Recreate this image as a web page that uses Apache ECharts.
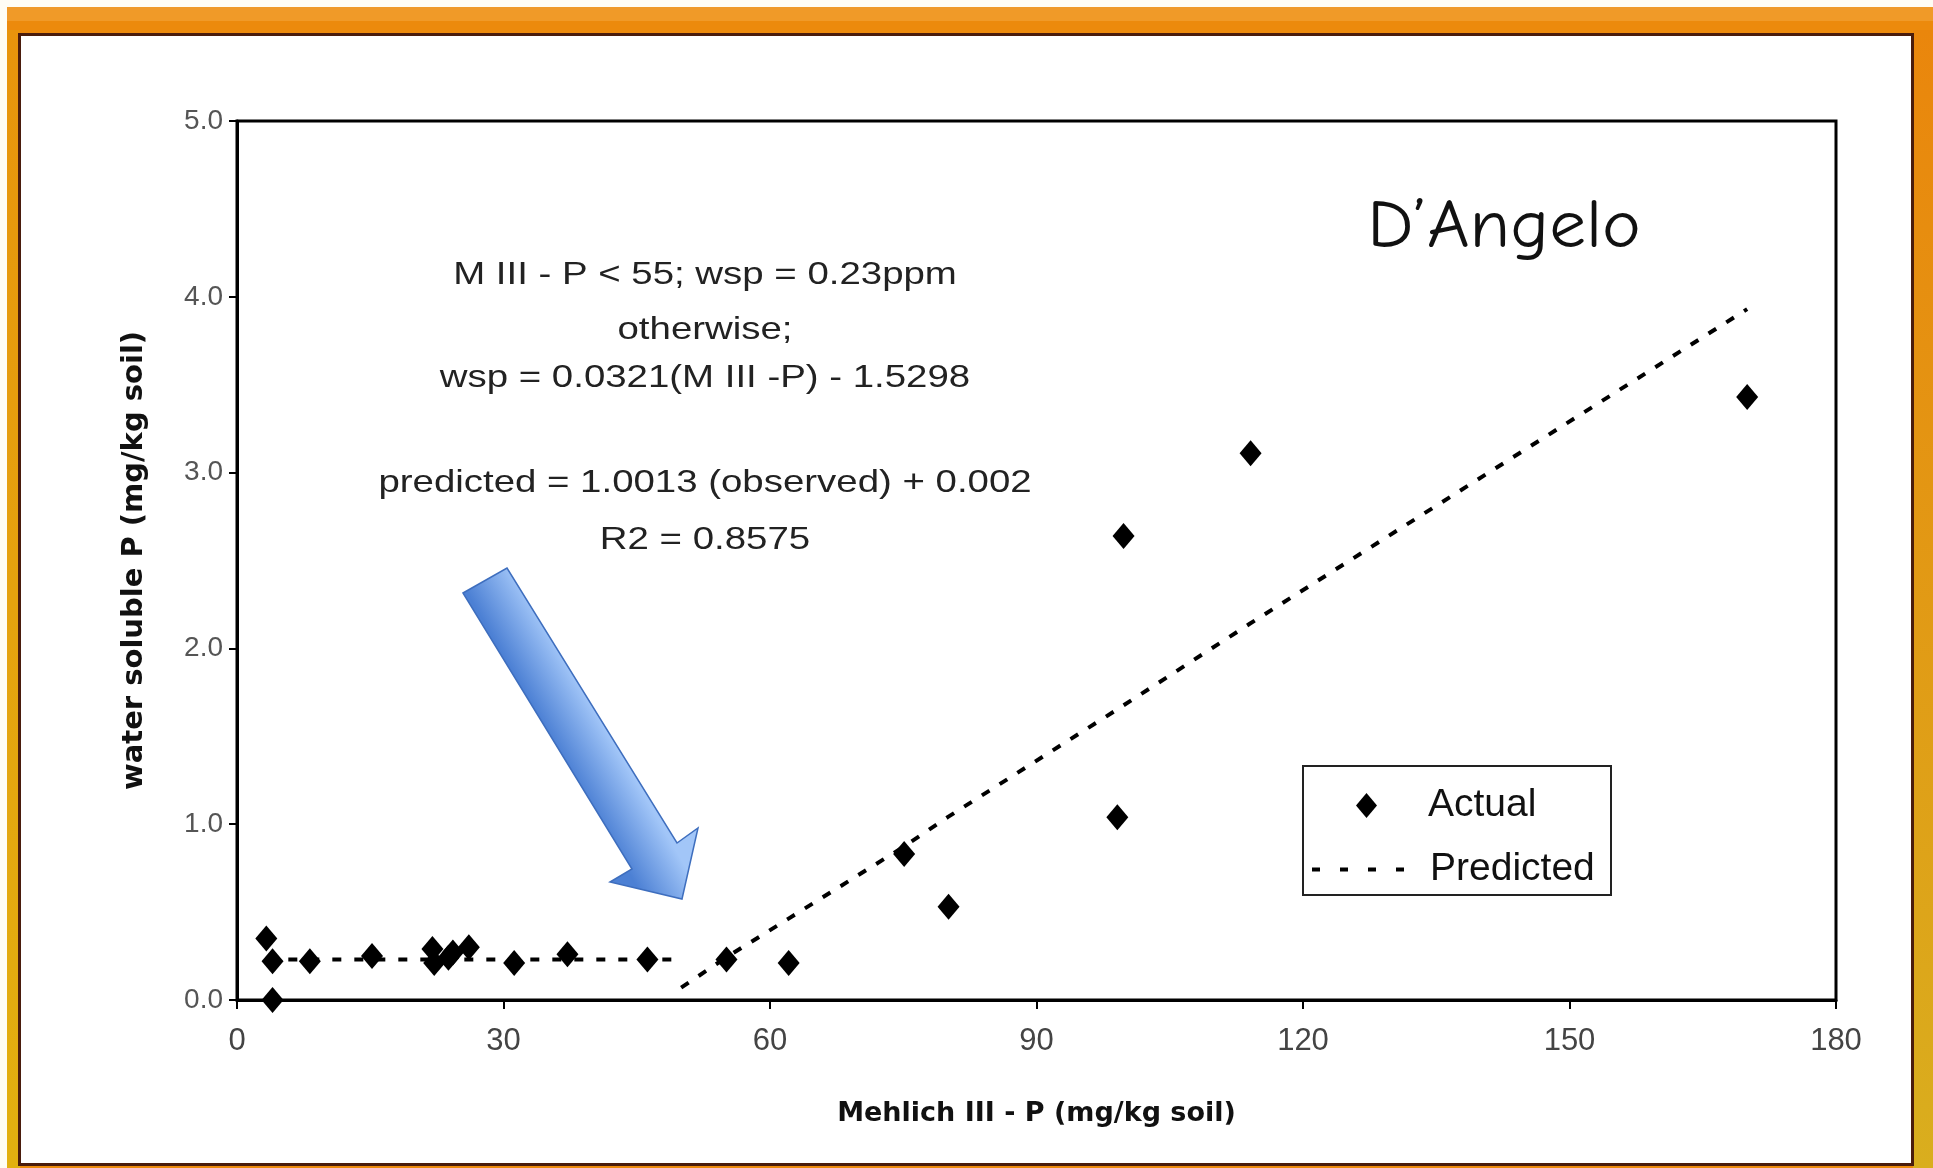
<!DOCTYPE html>
<html><head><meta charset="utf-8">
<script src="https://cdn.jsdelivr.net/npm/echarts@6/dist/echarts.min.js"></script>
<style>html,body{margin:0;padding:0;background:#fff}#c{width:1933px;height:1168px}</style>
</head><body><div id="c"></div>
<script>
// ---- data ----
const xMin = 0, xMax = 180, xStep = 30;
const yMin = 0, yMax = 5, yStep = 1;
const actualX = [3.3, 4.0, 4.0, 8.2, 15.2, 22.0, 22.2, 23.8, 24.3, 26.1, 31.2, 37.2, 46.2, 55.1, 62.1, 75.1, 80.1, 99.1, 99.8, 114.1, 170.0];
const actualY = [0.35, 0.22, 0.00, 0.22, 0.25, 0.29, 0.21, 0.24, 0.27, 0.30, 0.21, 0.26, 0.23, 0.23, 0.21, 0.83, 0.53, 1.04, 2.64, 3.11, 3.43];
const predFlatX = [3.3, 50];
const predFlatY = [0.23, 0.23];
const predSlopeX = [50, 55, 62, 75, 80, 99, 114, 170];
const predSlopeY = [0.07, 0.24, 0.46, 0.87, 1.04, 1.65, 2.14, 3.93];
const seriesNames = ['Actual', 'Predicted'];
const xAxisName = 'Mehlich III - P (mg/kg soil)';
const yAxisName = 'water soluble P (mg/kg soil)';
const annotationLines = ['M III - P < 55; wsp = 0.23ppm', 'otherwise;', 'wsp = 0.0321(M III -P) - 1.5298', 'predicted = 1.0013 (observed) + 0.002', 'R2 = 0.8575'];
const panelTitle = 'D\u2019Angelo';

const FONT = '"Liberation Sans", Arial, sans-serif';
const zip = (xs, ys) => xs.map((x, i) => [x, ys[i]]);

const chart = echarts.init(document.getElementById('c'), null, {renderer: 'canvas'});

const annY = [275, 330, 378, 483, 540];
const annotationGraphics = annotationLines.map((t, i) => ({
  type: 'text', x: 705, y: annY[i], scaleX: 1.2, z: 100,
  style: {text: t, x: 0, y: 0, align: 'center', verticalAlign: 'middle', font: '32px ' + FONT, fill: '#222'}
}));

const option = {
  backgroundColor: '#fffdf4',
  animation: false,
  grid: {left: 237, right: 97, top: 121, bottom: 168, show: true, borderColor: '#000', borderWidth: 3, backgroundColor: 'transparent'},
  xAxis: {
    type: 'value', min: xMin, max: xMax, interval: xStep,
    name: xAxisName, nameLocation: 'middle', nameGap: 100,
    nameTextStyle: {fontFamily: '"DejaVu Sans", sans-serif', fontWeight: 'bold', fontSize: 27, color: '#111'},
    axisLine: {show: true, onZero: false, lineStyle: {color: '#000', width: 3}},
    axisTick: {show: true, length: 9, lineStyle: {color: '#000', width: 2}},
    axisLabel: {fontFamily: FONT, fontSize: 31, color: '#444', margin: 26},
    splitLine: {show: false}
  },
  yAxis: {
    type: 'value', min: yMin, max: yMax, interval: yStep,
    name: yAxisName, nameLocation: 'middle', nameGap: 88, nameRotate: 90,
    nameTextStyle: {fontFamily: '"DejaVu Sans", sans-serif', fontWeight: 'bold', fontSize: 29, color: '#111'},
    axisLine: {show: true, onZero: false, lineStyle: {color: '#000', width: 3}},
    axisTick: {show: true, length: 8, lineStyle: {color: '#000', width: 2}},
    axisLabel: {fontFamily: FONT, fontSize: 28, color: '#555', margin: 14, formatter: v => v.toFixed(1)},
    splitLine: {show: false}
  },
  legend: [
    {data: [seriesNames[0]], z: 60, left: 1356, top: 786, orient: 'vertical', padding: 0, itemWidth: 21, itemHeight: 25, selectedMode: false,
     itemStyle: {color: '#000', opacity: 1},
     textStyle: {fontFamily: FONT, fontSize: 39, color: '#111', padding: [0, 0, 0, 46]}},
    {data: [seriesNames[1]], z: 60, left: 1310, top: 850, orient: 'vertical', padding: 0, itemWidth: 105, itemHeight: 14, selectedMode: false,
     itemStyle: {opacity: 0},
     lineStyle: {type: [8, 20], width: 4, color: '#000', opacity: 1},
     textStyle: {fontFamily: FONT, fontSize: 39, color: '#111', padding: [0, 0, 0, 8]}}
  ],
  series: [
    {name: seriesNames[1], type: 'line', data: zip(predFlatX, predFlatY), symbol: 'none', z: 3,
     lineStyle: {color: '#000', width: 4, type: [9, 13]}, itemStyle: {color: '#000'}},
    {name: seriesNames[1], type: 'line', data: zip(predSlopeX, predSlopeY), symbol: 'none', z: 3,
     lineStyle: {color: '#000', width: 4, type: [9, 12]}, itemStyle: {color: '#000'}},
    {name: seriesNames[0], type: 'scatter', data: zip(actualX, actualY), symbol: 'diamond', symbolSize: [22, 26], z: 5,
     itemStyle: {color: '#000', opacity: 1}}
  ],
  graphic: [
    // slide frame
    {type: 'rect', z: -20, shape: {x: 7, y: 7, width: 1926, height: 1161}, style: {fill: '#EC8A0C'}},
    {type: 'rect', z: -19, shape: {x: 7, y: 7, width: 1926, height: 14}, style: {fill: '#F09A28'}},
    {type: 'rect', z: -19, shape: {x: 7, y: 30, width: 13, height: 1138},
     style: {fill: {type: 'linear', x: 0, y: 0, x2: 0, y2: 1, colorStops: [{offset: 0, color: '#E8940C'}, {offset: 1, color: '#E2B010'}]}}},
    {type: 'rect', z: -19, shape: {x: 1913, y: 30, width: 20, height: 1138},
     style: {fill: {type: 'linear', x: 0, y: 0, x2: 0, y2: 1, colorStops: [{offset: 0, color: '#EA860C'}, {offset: 1, color: '#D9AE1E'}]}}},
    {type: 'rect', z: -18, shape: {x: 19.5, y: 34.5, width: 1893, height: 1130}, style: {fill: '#ffffff', stroke: '#4a1c0c', lineWidth: 3}},
    // arrow
    {type: 'polygon', z: 50,
     shape: {points: [[463, 593], [507, 568], [677, 843], [698, 828], [682, 899], [610, 882], [632, 869]]},
     style: {fill: {type: 'linear', global: true, x: 547, y: 731, x2: 592, y2: 705,
       colorStops: [{offset: 0, color: '#4C80D4'}, {offset: 1, color: '#A2C6F8'}]}, stroke: '#3E6EBE', lineWidth: 1.5}},
    // title
    {type: 'text', x: 1504, y: 228, scaleX: 1.08, z: 100,
     style: {text: panelTitle, x: 0, y: 0, align: 'center', verticalAlign: 'middle', font: '68px "Comic Sans MS", "Comic Neue", Lato, sans-serif', fill: '#111'}},
    // legend box
    {type: 'rect', z: 2, shape: {x: 1303, y: 766, width: 308, height: 129}, style: {fill: '#fff', stroke: '#222', lineWidth: 2}}
  ].concat(annotationGraphics)
};
chart.setOption(option);
</script></body></html>
